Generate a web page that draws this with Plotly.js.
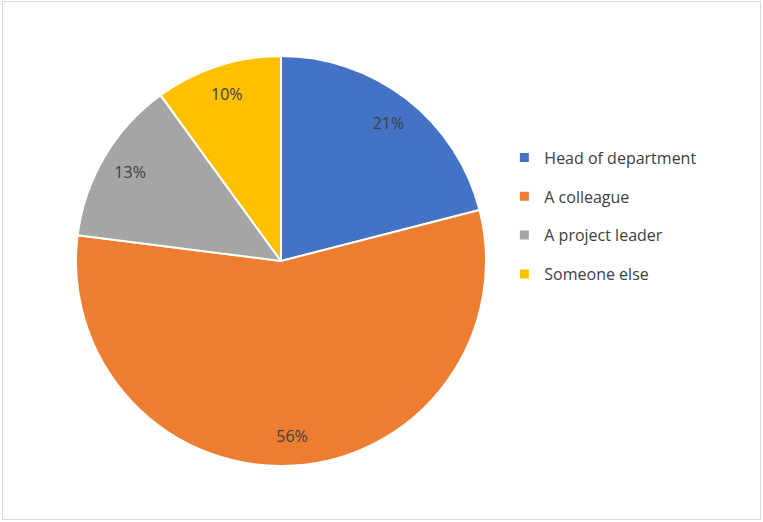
<!DOCTYPE html>
<html><head><meta charset="utf-8">
<script src="https://cdn.plot.ly/plotly-3.0.1.min.js"></script>
<style>
html,body{margin:0;padding:0;background:#fff;}
#wrap{position:relative;width:763px;height:522px;}
#chart{position:absolute;left:0;top:0;width:763px;height:522px;}
#frame{position:absolute;left:2px;top:1px;width:757px;height:517px;border:1px solid #d9d9d9;pointer-events:none;}
</style></head>
<body><div id="wrap"><div id="chart"></div><div id="frame"></div></div>
<script>
const labels = ["Head of department", "A colleague", "A project leader", "Someone else"];
const values = [21, 56, 13, 10];
const colors = ["#4472C4", "#ED7D31", "#A5A5A5", "#FFC000"];

const W = 763, H = 522, cx = 281, cy = 261, r = 205;
const dom = {x: [(cx - r) / W, (cx + r) / W], y: [(H - cy - r) / H, (H - cy + r) / H]};
const txtFont = {family: 'Open Sans', size: 16, color: '#404040'};

const traces = [{
  type: 'pie',
  labels: labels,
  values: values,
  sort: false,
  direction: 'clockwise',
  rotation: 0,
  marker: {colors: colors, line: {color: '#ffffff', width: 2}},
  textinfo: 'none',
  domain: dom,
  showlegend: false,
  hoverinfo: 'label+percent'
}, {
  // transparent ring used only to place the percentage labels nearer the rim
  type: 'pie',
  labels: labels,
  values: values,
  sort: false,
  direction: 'clockwise',
  rotation: 0,
  hole: 0.71,
  marker: {colors: labels.map(() => 'rgba(0,0,0,0)'), line: {width: 0}},
  texttemplate: '%{value}%',
  textposition: 'inside',
  insidetextorientation: 'horizontal',
  textfont: txtFont,
  domain: dom,
  showlegend: false,
  hoverinfo: 'skip'
}];

// legend entries (one per category, no data drawn)
labels.forEach((lab, i) => {
  traces.push({
    type: 'scatter', mode: 'markers', x: [null], y: [null],
    name: lab, legendgroup: 'g' + i,
    marker: {symbol: 'square', size: 9, color: colors[i]},
    hoverinfo: 'skip'
  });
});

Plotly.newPlot('chart', traces, {
  width: W, height: H,
  margin: {l: 0, r: 0, t: 0, b: 0},
  paper_bgcolor: '#ffffff',
  plot_bgcolor: 'rgba(0,0,0,0)',
  xaxis: {visible: false},
  yaxis: {visible: false},
  showlegend: true,
  legend: {x: 0.661, y: 0.586, xanchor: 'left', yanchor: 'middle',
    traceorder: 'grouped', tracegroupgap: 15,
    font: {family: 'Open Sans', size: 16, color: '#404040'}, itemwidth: 30}
}, {displayModeBar: false});
</script></body></html>
